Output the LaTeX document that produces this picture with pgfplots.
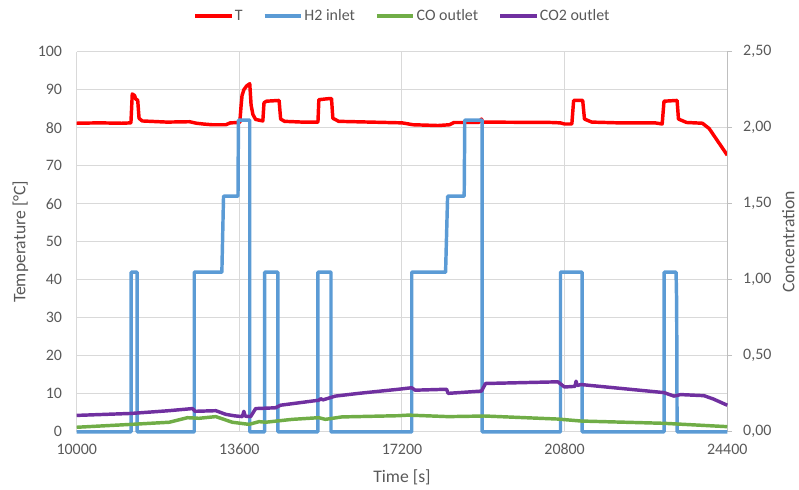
\documentclass[border=0pt]{standalone}
\usepackage{pgfplots}
\pgfplotsset{compat=1.18}
\usepackage{fontspec}
\setmainfont{Carlito}
\definecolor{txt}{HTML}{595959}
\definecolor{grd}{HTML}{D9D9D9}
\definecolor{axl}{HTML}{BFBFBF}
\definecolor{cT}{HTML}{FF0000}
\definecolor{cH}{HTML}{5B9BD5}
\definecolor{cCO}{HTML}{70AD47}
\definecolor{cCOt}{HTML}{7030A0}
\pgfplotsset{
  base/.style={
    scale only axis, width=489.75pt, height=286.1pt,
    xmin=10000, xmax=24400,
    font=\fontsize{12}{14}\selectfont,
    /pgf/number format/assume math mode=true,
    tick label style={text=txt, font=\fontsize{12}{14}\selectfont},
    label style={text=txt, font=\fontsize{13.3}{16}\selectfont},
  },
}
\begin{document}
\begin{tikzpicture}
\begin{axis}[base,
  ymin=0, ymax=100, ytick={0,10,...,100},
  xtick={10000,13600,17200,20800,24400},
  scaled x ticks=false,
  axis x line*=bottom, axis y line*=left,
  axis line style={grd, line width=0.75pt, -},
  grid=major, grid style={grd, line width=0.75pt},
  major tick length=0pt,
  xticklabel style={/pgf/number format/1000 sep={}, yshift=-5.5pt},
  yticklabel style={xshift=-7.5pt},
  xlabel={Time [s]}, ylabel={Temperature [°C]},
  xlabel style={at={(axis description cs:0.5,-0.119)}, anchor=center},
  ylabel style={at={(axis description cs:-0.0865,0.5)}, anchor=center},
  legend style={at={(0.5,1.094)}, anchor=center, draw=none, fill=none,
    legend columns=4, font=\fontsize{12}{14}\selectfont, text=txt,
    nodes={inner xsep=1pt},
    /tikz/every odd column/.append style={column sep=0pt},
    /tikz/every even column/.append style={column sep=14pt}},
  legend image code/.code={\draw[#1, line width=3pt] (0pt,0pt) -- (27.5pt,0pt);},
]
\addplot[cT, line width=2.6pt, line join=round] coordinates {
(10000,81.2) (10500,81.3) (11000,81.2) (11200,81.3) (11230,88.9) (11280,88.5) (11310,87.5) (11350,87.3) (11380,82.5) (11450,81.8) (12000,81.5) (12500,81.6) (12650,81.2) (12800,81.0) (13000,80.8) (13300,80.8) (13400,81.3) (13610,81.4) (13640,86.0) (13660,88.5) (13700,90.0) (13760,91.0) (13830,91.6) (13860,86.0) (13900,83.5) (13960,82.2) (14120,81.8) (14146,86.6) (14200,87.0) (14480,87.2) (14514,82.3) (14600,81.7) (15000,81.5) (15340,81.5) (15360,87.4) (15600,87.7) (15640,87.7) (15670,82.5) (15800,81.7) (16500,81.5) (17200,81.3) (17450,80.8) (18000,80.6) (18250,80.8) (18350,81.4) (18900,81.4) (18960,82.3) (18990,81.5) (20500,81.4) (20700,81.3) (20800,81.0) (20960,81.0) (21000,87.2) (21200,87.2) (21240,82.3) (21400,81.5) (22000,81.3) (22800,81.3) (22960,81.0) (23000,87.0) (23290,87.2) (23320,82.3) (23500,81.4) (23850,81.2) (24000,79.8) (24400,72.8)
};
\addlegendentry{T}
\addlegendimage{cH}
\addlegendentry{H2 inlet}
\addlegendimage{cCO}
\addlegendentry{CO outlet}
\addlegendimage{cCOt}
\addlegendentry{CO2 outlet}
\end{axis}
\begin{axis}[base,
  ymin=0, ymax=2.5, ytick={0,0.5,1,1.5,2,2.5},
  axis y line*=right, axis x line=none,
  axis line style={axl, line width=0.75pt, -},
  tick style={axl, line width=0.75pt},
  major tick length=3.75pt, tick align=outside,
  yticklabel style={/pgf/number format/fixed, /pgf/number format/fixed zerofill, /pgf/number format/precision=2, /pgf/number format/use comma, xshift=4.75pt},
  ylabel={Concentration},
  ylabel style={at={(axis description cs:1.094,0.5)}, anchor=center},
  clip=false,
]
\addplot[cH, line width=2.6pt, line join=round] coordinates {
(10000,0) (11205,0) (11205,1.05) (11337,1.05) (11337,0) (12602,0) (12602,1.05) (13213,1.05) (13250,1.55) (13570,1.55) (13580,2.05) (13830,2.05) (13830,0) (14161,0) (14161,1.05) (14454,1.05) (14454,0) (15336,0) (15336,1.05) (15629,1.05) (15629,0) (17416,0) (17416,1.05) (18165,1.05) (18210,1.55) (18577,1.55) (18590,2.05) (18975,2.05) (18975,0) (20709,0) (20709,1.05) (21186,1.05) (21186,0) (23002,0) (23002,1.05) (23267,1.05) (23280,0.85) (23290,0) (24400,0)
};
\addplot[cCO, line width=2.6pt, line join=round] coordinates {
(10000,0.030) (11205,0.049) (12050,0.063) (12450,0.093) (12710,0.089) (13080,0.100) (13445,0.063) (13815,0.049) (14035,0.067) (14180,0.063) (14770,0.082) (15360,0.093) (15505,0.082) (15870,0.098) (17122,0.106) (17340,0.110) (18225,0.100) (19035,0.104) (20650,0.084) (21163,0.071) (23000,0.056) (24400,0.034)
};
\addplot[cCOt, line width=2.6pt, line join=round] coordinates {
(10000,0.108) (11205,0.121) (11300,0.123) (12000,0.138) (12565,0.153) (12620,0.135) (13080,0.139) (13300,0.115) (13500,0.105) (13667,0.100) (13700,0.135) (13730,0.103) (13850,0.100) (13960,0.153) (14400,0.158) (14510,0.175) (15360,0.208) (15400,0.218) (15450,0.210) (15725,0.235) (16240,0.253) (17122,0.280) (17416,0.290) (17490,0.274) (18188,0.280) (18220,0.253) (18960,0.268) (19050,0.318) (20650,0.329) (20797,0.295) (21030,0.299) (21053,0.333) (21080,0.305) (21163,0.311) (23000,0.258) (23220,0.235) (23367,0.245) (23883,0.238) (24100,0.215) (24400,0.175)
};
\end{axis}
\path ([shift={(-57.75pt,-42.4pt)}]current axis.south west) rectangle ([shift={(51.75pt,39pt)}]current axis.north east);
\end{tikzpicture}
\end{document}
